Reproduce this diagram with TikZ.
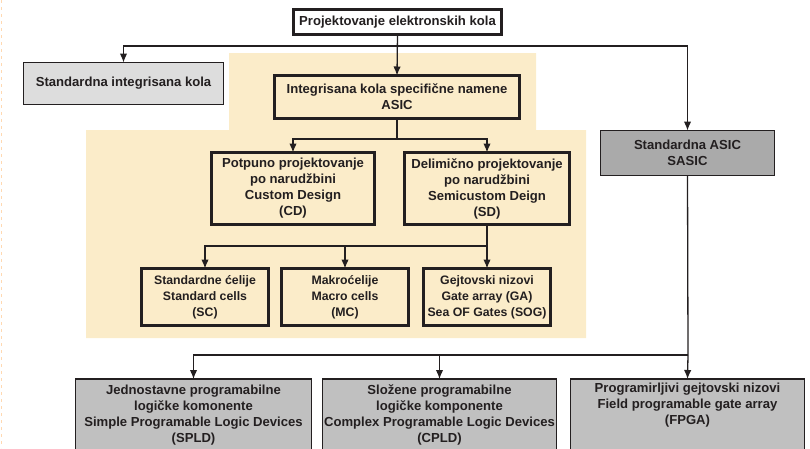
\documentclass[tikz,border=0pt]{standalone}
\usepackage{fontspec}
\setmainfont{Liberation Sans}
\usetikzlibrary{arrows.meta}
\definecolor{asicbg}{RGB}{251,236,201}
\definecolor{lightgrey}{RGB}{221,221,221}
\definecolor{midgrey}{RGB}{170,170,170}
\definecolor{lowgrey}{RGB}{192,192,192}
\definecolor{edgeline}{RGB}{35,31,32}

\begin{document}
\begin{tikzpicture}[x=1pt,y=-1pt,
    >={Latex[length=9pt,width=7.5pt]},
    every node/.style={font=\bfseries\fontsize{13.1}{16}\selectfont,align=center,inner sep=0pt,outer sep=0pt,text=edgeline},
    thickbox/.style={draw=edgeline,line width=3pt},
    cellbox/.style={thickbox,minimum width=127,minimum height=57,font=\bfseries\fontsize{12.3}{16}\selectfont},
    greybox/.style={draw=edgeline,line width=1.2pt},
    link/.style={draw=edgeline,line width=1.3pt}]
            \useasboundingbox (0,0) rectangle (810,448);
            \clip (0,0) rectangle (810,448);
            \draw[draw=orange!30,line width=1pt,dash pattern=on 3pt off 4pt] (1.5,0) -- (1.5,448);

            % pozadina ASIC
            \fill[asicbg] (229,53) -- (536,53) -- (536,130) -- (586,130) -- (586,338)
                -- (86,338) -- (86,130) -- (229,130) -- cycle;

            \node[thickbox,fill=white,minimum width=208,minimum height=25] (proj) at (397.5,22) {Projektovanje elektronskih kola};
            \node[greybox,fill=lightgrey,minimum width=200,minimum height=42] (sik) at (123.5,83.5) {Standardna integrisana kola};
            \node[thickbox,minimum width=245,minimum height=43] (asic) at (397,97) {Integrisana kola specifične namene\\ASIC};
            \node[greybox,fill=midgrey,minimum width=174,minimum height=45] (sasic) at (687.5,153) {Standardna ASIC\\SASIC};

            \node[thickbox,minimum width=163,minimum height=72] (cd) at (293,188.5) {Potpuno projektovanje\\po narudžbini\\Custom Design\\(CD)};
            \node[thickbox,minimum width=165,minimum height=72] (sd) at (487,188.5) {Delimično projektovanje\\po narudžbini\\Semicustom Deign\\(SD)};

            \node[cellbox] (sc) at (205,297) {Standardne ćelije\\Standard cells\\(SC)};
            \node[cellbox] (mc) at (345,297) {Makroćelije\\Macro cells\\(MC)};
            \node[cellbox] (ga) at (487,297) {Gejtovski nizovi\\Gate array (GA)\\Sea OF Gates (SOG)};

            \node[greybox,fill=lowgrey,minimum width=236,minimum height=72] (spld) at (193.5,415) {Jednostavne programabilne\\logičke komonente\\Simple Programable Logic Devices\\(SPLD)};
            \node[greybox,fill=lowgrey,minimum width=234,minimum height=72] (cpld) at (439.5,415) {Složene programabilne\\logičke komponente\\Complex Programable Logic Devices\\(CPLD)};
            \node[greybox,fill=lowgrey,minimum width=234,minimum height=72] (fpga) at (687.5,415) {};
            \node (fpgatxt) at (687.5,405) {Programirljivi gejtovski nizovi\\Field programable gate array\\(FPGA)};

            \coordinate (j0) at (397,46);
            \coordinate (j1) at (397,139);
            \coordinate (j2) at (487,246);
            \coordinate (j3) at (688,355);

            \draw[link,->] (proj.south) -- (asic.north);
            \draw[link,->] (j0) -| (sik.north);
            \draw[link,->] (j0) -| (sasic.north);

            \draw[link] (asic.south) -- (j1);
            \draw[link,->] (j1) -| (cd.north);
            \draw[link,->] (j1) -| (sd.north);

            \draw[link] (sd.south) -- (j2);
            \draw[link,->] (j2) -| (sc.north);
            \draw[link,->] (mc.north |- j2) -- (mc.north);
            \draw[link,->] (j2) -- (ga.north);

            \draw[link] (sasic.south) -- (j3);
            \draw[link,->] (j3) -| (spld.north);
            \draw[link,->] (cpld.north |- j3) -- (cpld.north);
            \draw[link,->] (j3) -- (fpga.north);
\end{tikzpicture}
\end{document}
